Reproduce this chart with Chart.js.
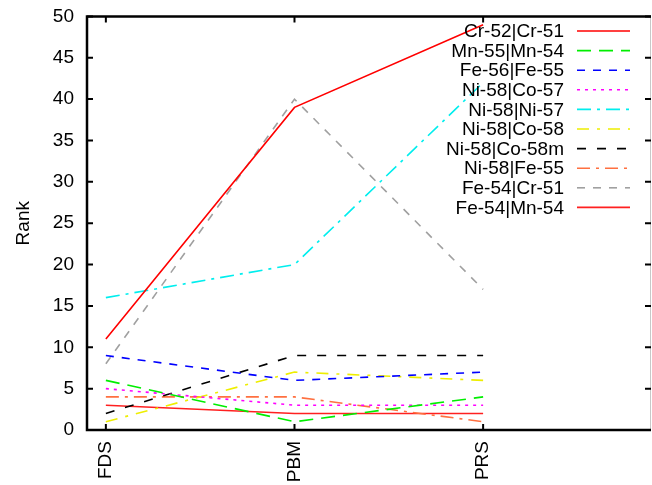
<!DOCTYPE html>
<html>
<head>
<meta charset="utf-8">
<script src="https://cdn.jsdelivr.net/npm/chart.js@4/dist/chart.umd.min.js"></script>
<style>
html,body{margin:0;padding:0;background:#fff;}
#wrap{width:652px;height:485px;}
</style>
</head>
<body>
<div id="wrap"><canvas id="c" width="652" height="485"></canvas></div>
<script>
const categories = ["FDS", "PBM", "PRS"];
const seriesNames = ["Cr-52|Cr-51","Mn-55|Mn-54","Fe-56|Fe-55","Ni-58|Co-57","Ni-58|Ni-57","Ni-58|Co-58","Ni-58|Co-58m","Ni-58|Fe-55","Fe-54|Cr-51","Fe-54|Mn-54"];
const cr52cr51 = [11, 39, 49];
const mn55mn54 = [6, 1, 4];
const fe56fe55 = [9, 6, 7];
const ni58co57 = [5, 3, 3];
const ni58ni57 = [16, 20, 42];
const ni58co58 = [1, 7, 6];
const ni58co58m = [2, 9, 9];
const ni58fe55 = [4, 4, 1];
const fe54cr51 = [8, 40, 17];
const fe54mn54 = [3, 2, 2];
const yTicks = [0,5,10,15,20,25,30,35,40,45,50];

const seriesValues = [cr52cr51, mn55mn54, fe56fe55, ni58co57, ni58ni57, ni58co58, ni58co58m, ni58fe55, fe54cr51, fe54mn54];
const colors = ["#ff0000","#00ee00","#0000ff","#ff00ff","#00eeee","#eeee00","#000000","#ff7040","#a0a0a0","#ff2020"];
const dashes = [[], [14,8], [8,8], [3,5], [14,6,3,6], [12,8,3,8], [9,11], [13,6,3,6], [8,8], []];

const datasets = seriesNames.map((n,i)=>({
  label: n,
  data: seriesValues[i].map((v,j)=>({x:j, y:v})),
  borderColor: colors[i],
  backgroundColor: colors[i],
  borderDash: dashes[i],
  borderWidth: 1.6,
  pointRadius: 0,
  fill: false,
  tension: 0
}));

const FONT = "'Liberation Sans', Arial, sans-serif";

const framePlugin = {
  id: 'frame',
  afterDraw(chart){
    const ctx = chart.ctx, a = chart.chartArea;
    const xs = chart.scales.x, ys = chart.scales.y;
    ctx.save();
    ctx.strokeStyle = '#c8c8c8'; ctx.lineWidth = 1;
    ctx.beginPath(); ctx.moveTo(a.right-0.5, a.top); ctx.lineTo(a.right-0.5, a.bottom); ctx.stroke();
    ctx.strokeStyle = '#000'; ctx.lineWidth = 2.5;
    ctx.beginPath();
    ctx.moveTo(a.right, a.top); ctx.lineTo(a.left, a.top); ctx.lineTo(a.left, a.bottom); ctx.lineTo(a.right, a.bottom);
    ctx.stroke();
    ctx.lineWidth = 2;
    ctx.beginPath();
    yTicks.forEach(v=>{
      const y = ys.getPixelForValue(v);
      ctx.moveTo(a.left, y); ctx.lineTo(a.left+6, y);
      ctx.moveTo(a.right, y); ctx.lineTo(a.right-6, y);
    });
    categories.forEach((c,i)=>{
      const x = xs.getPixelForValue(i);
      ctx.moveTo(x, a.bottom); ctx.lineTo(x, a.bottom-6);
      ctx.moveTo(x, a.top); ctx.lineTo(x, a.top+6);
    });
    ctx.stroke();
    // legend
    ctx.font = "19px " + FONT;
    ctx.textAlign = 'right'; ctx.textBaseline = 'middle';
    chart.data.datasets.forEach((d,i)=>{
      const y = 31 + i*19.6;
      ctx.fillStyle = '#000';
      ctx.fillText(d.label, 564, y + 1);
      ctx.strokeStyle = d.borderColor; ctx.lineWidth = 1.6;
      ctx.setLineDash(d.borderDash);
      ctx.beginPath(); ctx.moveTo(577, y); ctx.lineTo(630, y); ctx.stroke();
      ctx.setLineDash([]);
    });
    ctx.restore();
  }
};

new Chart(document.getElementById('c'), {
  type: 'line',
  data: { datasets },
  plugins: [framePlugin],
  options: {
    responsive: false,
    animation: false,
    events: [],
    layout: { padding: { top: 15, right: 1, left: 0, bottom: 0 } },
    plugins: { legend: { display: false }, tooltip: { enabled: false } },
    scales: {
      x: {
        type: 'linear', min: -0.1, max: 2.89,
        afterBuildTicks(s){ s.ticks = categories.map((c,i)=>({value:i})); },
        afterFit(s){ s.height = 55; },
        grid: { display: false },
        border: { display: false },
        ticks: {
          minRotation: 90, maxRotation: 90, padding: 3,
          color: '#000', font: { size: 19, family: FONT },
          callback: (v)=> categories[v]
        }
      },
      y: {
        min: 0, max: 50,
        afterBuildTicks(s){ s.ticks = yTicks.map(v=>({value:v})); },
        afterFit(s){ s.width = 87; },
        grid: { display: false },
        border: { display: false },
        title: { display: true, text: 'Rank', color: '#000', font: { size: 19, family: FONT }, padding: { top: 12, bottom: 0 } },
        ticks: { padding: 5, color: '#000', font: { size: 19, family: FONT } }
      }
    }
  }
});
</script>
</body>
</html>
